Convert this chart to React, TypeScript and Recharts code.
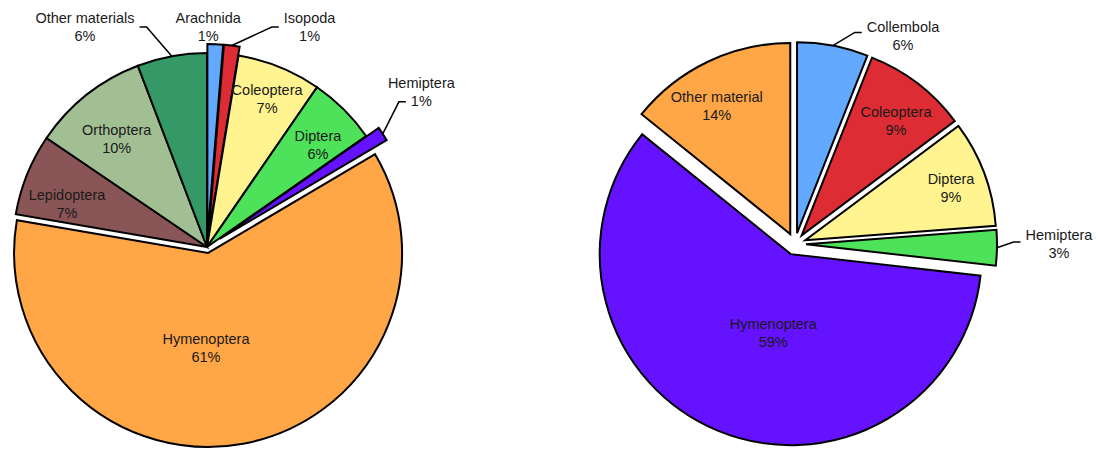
import React from 'react';
import { PieChart, Pie, Cell, Sector } from 'recharts';

// left pie
const leftNames = ['Arachnida', 'Isopoda', 'Coleoptera', 'Diptera', 'Hemiptera', 'Hymenoptera', 'Lepidoptera', 'Orthoptera', 'Other materials'];
const leftValues = [1.3, 1.3, 7.0, 5.7, 1.2, 61.2, 6.8, 9.7, 5.8];

// right pie
const rightNames = ['Collembola', 'Coleoptera', 'Diptera', 'Hemiptera', 'Hymenoptera', 'Other material'];
const rightValues = [6.0, 8.8, 9.0, 3.0, 59.0, 14.2];

const leftColors = ['#63a9ff', '#dd2c34', '#fff48f', '#4ee15a', '#6412ff', '#ffa646', '#8a5556', '#a2bf94', '#349966'];
const rightColors = ['#63a9ff', '#dd2c34', '#fff48f', '#4ee15a', '#6412ff', '#ffa646'];

// how far each slice is pulled out (px)
const leftExplode: Record<string, number> = { Arachnida: 9, Isopoda: 9, Hemiptera: 15, Hymenoptera: 6 };
const rightExplode: Record<string, number> = {
  Collembola: 11, Coleoptera: 11, Diptera: 11, Hemiptera: 11, Hymenoptera: 11, 'Other material': 11,
};

// label placement: a = degrees clockwise from 12 o'clock, k = distance as share of radius
// leader: 'mid' hooks onto the middle of the label, 'pct' onto the percent line
type Place = { a: number; k: number; leader?: 'mid' | 'pct'; dy?: number };
const leftPlace: Record<string, Place> = {
  Arachnida: { a: 0.3, k: 1.134 },
  Isopoda: { a: 25, k: 1.251, leader: 'mid' },
  Coleoptera: { a: 22.1, k: 0.823 },
  Diptera: { a: 47.4, k: 0.777 },
  Hemiptera: { a: 54.1, k: 1.364, leader: 'pct' },
  Hymenoptera: { a: 180.6, k: 0.521 },
  Lepidoptera: { a: 287.1, k: 0.755 },
  Orthoptera: { a: 320, k: 0.724 },
  'Other materials': { a: 331, k: 1.297, leader: 'mid' },
};
const rightPlace: Record<string, Place> = {
  Collembola: { a: 27.5, k: 1.225, leader: 'mid', dy: -4 },
  Coleoptera: { a: 39.3, k: 0.835 },
  Diptera: { a: 70.4, k: 0.867 },
  Hemiptera: { a: 90, k: 1.382, leader: 'mid', dy: -2 },
  Hymenoptera: { a: 193.7, k: 0.481 },
  'Other material': { a: 330.5, k: 0.832 },
};

const FONT = '"Liberation Sans", Arial, sans-serif';
const FONT_SIZE = 14.5;
const RAD = Math.PI / 180;

let ctx: CanvasRenderingContext2D | null = null;
const textWidth = (s: string) => {
  if (!ctx) ctx = document.createElement('canvas').getContext('2d');
  if (!ctx) return s.length * 7.5;
  ctx.font = `${FONT_SIZE}px ${FONT}`;
  return ctx.measureText(s).width;
};

const sliceName = (p: any) => p?.payload?.name ?? p?.name;

const explodedShape = (offsets: Record<string, number>) => (props: any) => {
  const d = offsets[sliceName(props)] ?? 0;
  const r = -props.midAngle * RAD;
  return <Sector {...props} cx={props.cx + d * Math.cos(r)} cy={props.cy + d * Math.sin(r)} />;
};

const makeLabel = (place: Record<string, Place>, offsets: Record<string, number>) => (props: any) => {
  const { cx, cy, midAngle, outerRadius, percent } = props;
  const name = sliceName(props);
  const p = place[name];
  if (!p) return null;
  const t = p.a * RAD;
  const lx = cx + p.k * outerRadius * Math.sin(t);
  const ly = cy - p.k * outerRadius * Math.cos(t);
  const pct = `${Math.round(percent * 100)}%`;

  let leader = null;
  if (p.leader) {
    const d = offsets[name] ?? 0;
    const m = -midAngle * RAD;
    const sx = cx + (outerRadius + d) * Math.cos(m);
    const sy = cy + (outerRadius + d) * Math.sin(m);
    const onPct = p.leader === 'pct';
    const half = (onPct ? textWidth(pct) : Math.max(textWidth(name), textWidth(pct))) / 2;
    const ay = (onPct ? ly + 10 : ly) + (p.dy ?? 0);
    const side = sx < lx ? -1 : 1;
    const ax = lx + side * (half + 5);
    const ex = ax + side * 7;
    leader = <polyline points={`${sx},${sy} ${ex},${ay} ${ax},${ay}`} fill="none" stroke="#000" strokeWidth={1.5} />;
  }

  return (
    <g>
      {leader}
      <text x={lx} y={ly - 9} textAnchor="middle" dominantBaseline="central" fill="#1a1a1a" fontSize={FONT_SIZE} fontFamily={FONT}>{name}</text>
      <text x={lx} y={ly + 9} textAnchor="middle" dominantBaseline="central" fill="#1a1a1a" fontSize={FONT_SIZE} fontFamily={FONT}>{pct}</text>
    </g>
  );
};

const leftData = leftNames.map((name, i) => ({ name, value: leftValues[i] }));
const rightData = rightNames.map((name, i) => ({ name, value: rightValues[i] }));

export default function App() {
  return (
    <div style={{ position: 'absolute', left: 0, top: 0, background: '#fff' }}>
      <PieChart width={1101} height={450} margin={{ top: 0, right: 0, bottom: 0, left: 0 }}>
        <Pie
          data={leftData}
          dataKey="value"
          nameKey="name"
          cx={207}
          cy={247}
          outerRadius={194}
          startAngle={90}
          endAngle={-270}
          stroke="#000"
          strokeWidth={2}
          labelLine={false}
          label={makeLabel(leftPlace, leftExplode)}
          shape={explodedShape(leftExplode)}
          isAnimationActive={false}
        >
          {leftData.map((d, i) => (
            <Cell key={d.name} fill={leftColors[i]} />
          ))}
        </Pie>
        <Pie
          data={rightData}
          dataKey="value"
          nameKey="name"
          cx={795}
          cy={244}
          outerRadius={191}
          startAngle={90}
          endAngle={-270}
          stroke="#000"
          strokeWidth={2}
          labelLine={false}
          label={makeLabel(rightPlace, rightExplode)}
          shape={explodedShape(rightExplode)}
          isAnimationActive={false}
        >
          {rightData.map((d, i) => (
            <Cell key={d.name} fill={rightColors[i]} />
          ))}
        </Pie>
      </PieChart>
    </div>
  );
}
